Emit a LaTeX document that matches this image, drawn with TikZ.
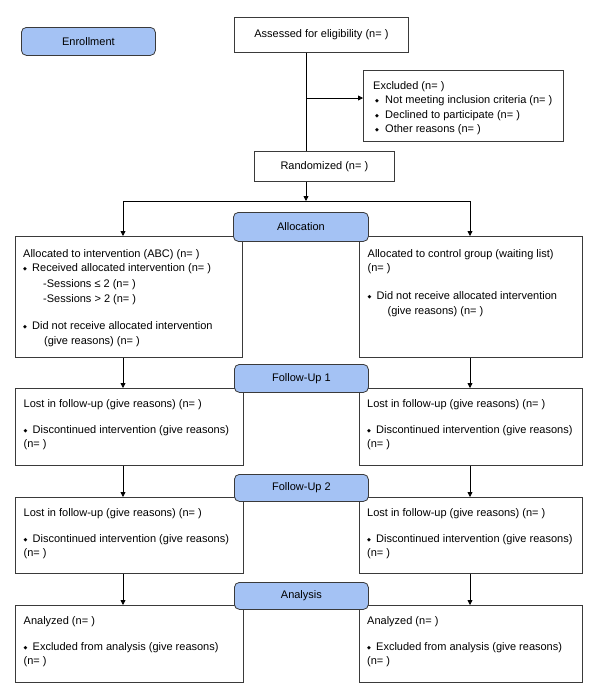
\documentclass[tikz,border=0pt]{standalone}
\usepackage{fontspec}
\setmainfont{Liberation Sans}
\newfontfamily\dejavu{DejaVu Sans}
\usetikzlibrary{arrows.meta}
\definecolor{lblue}{HTML}{A4C2F4}
\definecolor{edgec}{HTML}{3A3A3A}
\newcommand\bul[1][9pt]{\makebox[#1][l]{\raisebox{1pt}{\dejavu\fontsize{5}{5}\selectfont ◆}}}
\newcommand\fs{\rule{0pt}{8pt}}
\begin{document}
\begin{tikzpicture}[x=1pt,y=-1pt,
  every node/.style={font=\fontsize{11}{14}\selectfont},
  box/.style={draw=edgec, line width=0.8pt, fill=white, anchor=north west, inner sep=0pt},
  lab/.style={box, fill=lblue, rounded corners=5pt},
  txt/.style={anchor=north west, inner sep=0pt, align=left},
  ln/.style={line width=0.8pt, draw=black},
  arr/.style={ln, -{Triangle[length=5pt,width=5pt]}}]
\useasboundingbox (0,0) rectangle (600,697);

% top part
\node[box, minimum width=174pt, minimum height=35pt] (assess) at (234,17) {Assessed for eligibility (n= )};
\node[box, minimum width=200pt, minimum height=71pt] (excl) at (363,70) {};
\node[txt] (exclt) at (373,81) {\fs Excluded (n= )\\[0.5pt]
\hspace*{2pt}\bul[10pt]Not meeting inclusion criteria (n= )\\[0.5pt]
\hspace*{2pt}\bul[10pt]Declined to participate (n= )\\[0.5pt]
\hspace*{2pt}\bul[10pt]Other reasons (n= )};
\node[box, minimum width=140pt, minimum height=30pt] (rand) at (254,151) {Randomized (n= )};

% row 0
\node[box, minimum width=227pt, minimum height=121pt] (a0l) at (15,236) {};
\node[txt] (a0lt) at (23,249) {\fs Allocated to intervention (ABC) (n= )\\
\bul Received allocated intervention (n= )\\[2pt]
\hspace*{20pt}-Sessions ≤ 2 (n= )\\[1pt]
\hspace*{20pt}-Sessions > 2 (n= )\\[13pt]
\bul Did not receive allocated intervention\\[1pt]
\hspace*{21pt}(give reasons) (n= )};
\node[box, minimum width=223pt, minimum height=121pt] (a0r) at (359,236) {};
\node[txt] (a0rt) at (367.5,249) {\fs Allocated to control group (waiting list)\\
(n= )\\[14pt]
\bul Did not receive allocated intervention\\[1pt]
\hspace*{20pt}(give reasons) (n= )};

% row 1
\node[box, minimum width=228pt, minimum height=77pt] (a1l) at (15,388) {};
\node[txt] (a1lt) at (23.5,399) {\fs Lost in follow-up (give reasons) (n= )\\[12pt]
\bul Discontinued intervention (give reasons)\\(n= )};
\node[box, minimum width=223pt, minimum height=77pt] (a1r) at (359,388) {};
\node[txt] (a1rt) at (367,399) {\fs Lost in follow-up (give reasons) (n= )\\[12pt]
\bul Discontinued intervention (give reasons)\\(n= )};

% row 2
\node[box, minimum width=228pt, minimum height=76pt] (a2l) at (15,497) {};
\node[txt] (a2lt) at (23.5,508) {\fs Lost in follow-up (give reasons) (n= )\\[12pt]
\bul Discontinued intervention (give reasons)\\(n= )};
\node[box, minimum width=223pt, minimum height=76pt] (a2r) at (359,497) {};
\node[txt] (a2rt) at (367,508) {\fs Lost in follow-up (give reasons) (n= )\\[12pt]
\bul Discontinued intervention (give reasons)\\(n= )};

% row 3
\node[box, minimum width=228pt, minimum height=77pt] (a3l) at (15,605) {};
\node[txt] (a3lt) at (23.5,616) {\fs Analyzed (n= )\\[12pt]
\bul Excluded from analysis (give reasons)\\(n= )};
\node[box, minimum width=223pt, minimum height=77pt] (a3r) at (359,605) {};
\node[txt] (a3rt) at (367,616) {\fs Analyzed (n= )\\[12pt]
\bul Excluded from analysis (give reasons)\\(n= )};

% connectors
\coordinate (tx) at (306,0);
\coordinate (lx) at (123,0);
\coordinate (rx) at (470,0);
\coordinate (br) at (306,98);
\coordinate (sp) at (306,201);
\draw[ln] (assess.south -| tx) -- (rand.north -| tx);
\draw[arr] (br) -- (br -| excl.west);
\draw[arr] (rand.south -| tx) -- (sp);
\draw[ln] (sp -| lx) -- (sp -| rx);
\draw[arr] (sp -| lx) -- (a0l.north -| lx);
\draw[arr] (sp -| rx) -- (a0r.north -| rx);
\draw[arr] (a0l.south -| lx) -- (a1l.north -| lx);
\draw[arr] (a0r.south -| rx) -- (a1r.north -| rx);
\draw[arr] (a1l.south -| lx) -- (a2l.north -| lx);
\draw[arr] (a1r.south -| rx) -- (a2r.north -| rx);
\draw[arr] (a2l.south -| lx) -- (a3l.north -| lx);
\draw[arr] (a2r.south -| rx) -- (a3r.north -| rx);

% stage labels
\node[lab, minimum width=134pt, minimum height=28pt] (enroll) at (21,27) {Enrollment};
\node[lab, minimum width=135pt, minimum height=29pt] (alloc) at (233,212) {Allocation};
\node[lab, minimum width=134pt, minimum height=28pt] (fu1) at (234,364) {Follow-Up 1};
\node[lab, minimum width=134pt, minimum height=27pt] (fu2) at (234,474) {Follow-Up 2};
\node[lab, minimum width=134pt, minimum height=27pt] (anal) at (234,582) {Analysis};
\end{tikzpicture}
\end{document}
